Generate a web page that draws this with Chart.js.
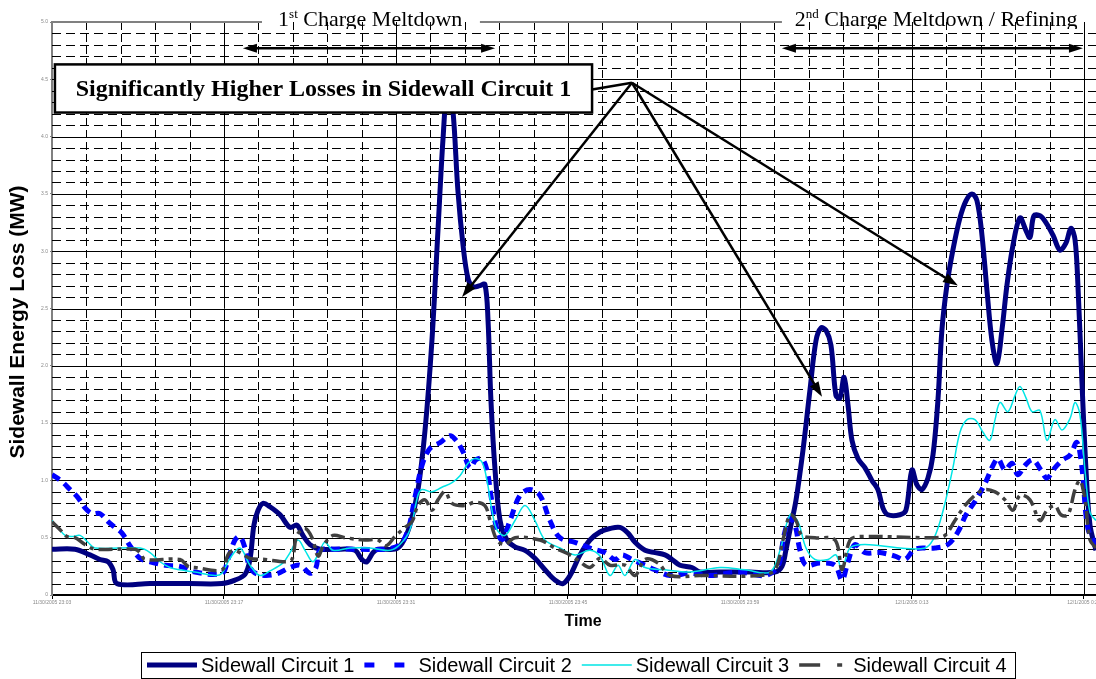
<!DOCTYPE html>
<html lang="en">
<head>
<meta charset="UTF-8">
<title>Sidewall Energy Loss</title>
<script src="https://cdn.jsdelivr.net/npm/chart.js"></script>
<style>
  html, body { margin: 0; padding: 0; background: #fff; overflow: hidden; }
  canvas { display: block; }
</style>
</head>
<body>
<canvas id="chart" width="1096" height="679"></canvas>
<script>
// x = time in major grid divisions from the first tick label, y = MW
const tickLabels = ['11/30/2005 23:03', '11/30/2005 23:17', '11/30/2005 23:31', '11/30/2005 23:45',
                    '11/30/2005 23:59', '12/1/2005 0:13', '12/1/2005 0:27'];
const seriesNames = ['Sidewall Circuit 1', 'Sidewall Circuit 2', 'Sidewall Circuit 3', 'Sidewall Circuit 4'];

const c1T = [0,0.134,0.221,0.279,0.326,0.355,0.378,0.570,0.802,0.988,1.064,1.122,1.151,1.174,1.198,1.227,1.267,1.326,1.384,1.424,1.459,1.5,1.558,1.674,1.762,1.802,1.831,1.866,1.895,1.994,2.035,2.081,2.128,2.169,2.209,2.244,2.273,2.302,2.331,2.36,2.39,2.419,2.448,2.488,2.517,2.535,2.552,2.576,2.605,2.645,2.692,2.75,2.808,2.866,2.924,2.971,3.012,3.07,3.128,3.186,3.244,3.302,3.349,3.39,3.448,3.506,3.564,3.605,3.651,3.721,3.767,3.884,4.058,4.203,4.244,4.267,4.291,4.326,4.366,4.407,4.442,4.471,4.5,4.529,4.558,4.581,4.605,4.628,4.651,4.686,4.727,4.767,4.802,4.831,4.86,4.93,4.965,5.0,5.029,5.058,5.093,5.122,5.151,5.174,5.203,5.238,5.279,5.314,5.349,5.378,5.407,5.436,5.465,5.494,5.523,5.552,5.587,5.628,5.663,5.686,5.709,5.744,5.779,5.82,5.86,5.895,5.924,5.948,5.965,5.988,6.012,6.035,6.07];
const c1V = [0.40,0.40,0.35,0.31,0.29,0.22,0.10,0.10,0.10,0.10,0.13,0.18,0.31,0.61,0.74,0.80,0.77,0.70,0.59,0.61,0.52,0.44,0.40,0.40,0.39,0.31,0.29,0.37,0.40,0.40,0.45,0.61,0.92,1.44,2.22,3.18,3.97,4.49,4.23,3.53,3.05,2.76,2.69,2.70,2.71,2.40,1.70,1.09,0.65,0.48,0.42,0.39,0.32,0.22,0.13,0.10,0.17,0.35,0.48,0.55,0.58,0.59,0.54,0.46,0.39,0.37,0.35,0.31,0.26,0.24,0.20,0.20,0.20,0.20,0.25,0.39,0.57,0.83,1.26,1.79,2.22,2.33,2.31,2.18,1.74,1.72,1.90,1.66,1.35,1.19,1.11,1.00,0.92,0.76,0.70,0.70,0.74,1.09,0.96,0.92,1.02,1.22,1.70,2.31,2.70,3.01,3.29,3.44,3.50,3.44,3.14,2.66,2.22,2.02,2.31,2.70,3.05,3.29,3.18,3.12,3.31,3.31,3.25,3.14,3.01,3.07,3.20,3.10,2.70,1.87,1.09,0.61,0.39];

const c2T = [0,0.058,0.105,0.151,0.192,0.233,0.279,0.326,0.366,0.407,0.453,0.512,0.57,0.657,0.744,0.831,0.988,1.023,1.064,1.093,1.122,1.151,1.198,1.297,1.384,1.442,1.5,1.535,1.558,1.645,1.791,1.936,2.023,2.07,2.11,2.151,2.198,2.256,2.314,2.349,2.39,2.43,2.465,2.5,2.529,2.552,2.581,2.616,2.663,2.721,2.779,2.837,2.895,2.953,3.041,3.128,3.215,3.273,3.314,3.372,3.448,3.506,3.593,3.709,3.826,4.0,4.145,4.221,4.256,4.291,4.32,4.349,4.384,4.465,4.552,4.593,4.628,4.669,4.727,4.814,4.901,4.959,5.017,5.134,5.209,5.267,5.314,5.372,5.43,5.471,5.5,5.541,5.581,5.616,5.657,5.703,5.75,5.785,5.831,5.878,5.919,5.959,5.988,6.023,6.07];
const c2V = [1.05,0.99,0.92,0.85,0.76,0.71,0.71,0.64,0.59,0.54,0.43,0.32,0.29,0.26,0.25,0.20,0.19,0.31,0.48,0.51,0.41,0.24,0.18,0.18,0.24,0.26,0.19,0.24,0.39,0.40,0.40,0.40,0.44,0.57,0.85,1.13,1.28,1.33,1.39,1.35,1.25,1.11,1.18,1.19,1.09,0.87,0.61,0.48,0.65,0.87,0.92,0.87,0.65,0.50,0.46,0.41,0.37,0.31,0.35,0.31,0.26,0.22,0.17,0.19,0.17,0.20,0.17,0.25,0.52,0.67,0.61,0.39,0.26,0.28,0.26,0.13,0.29,0.44,0.37,0.37,0.34,0.31,0.40,0.41,0.44,0.55,0.70,0.83,0.99,1.13,1.19,1.09,1.15,1.05,1.13,1.18,1.09,1.02,1.11,1.18,1.22,1.33,1.11,0.58,0.44];

const c3T = [0,0.035,0.076,0.116,0.163,0.209,0.25,0.512,0.57,0.628,0.686,0.744,0.831,0.948,0.988,1.035,1.093,1.151,1.209,1.267,1.343,1.384,1.43,1.471,1.517,1.558,1.587,1.634,1.733,1.849,1.965,2.023,2.081,2.128,2.151,2.209,2.267,2.326,2.372,2.419,2.459,2.5,2.529,2.558,2.587,2.634,2.692,2.75,2.808,2.866,2.953,3.041,3.128,3.186,3.244,3.291,3.331,3.39,3.448,3.564,3.709,3.884,4.029,4.174,4.233,4.291,4.337,4.384,4.436,4.512,4.558,4.593,4.64,4.727,4.93,5.076,5.122,5.163,5.203,5.238,5.279,5.32,5.366,5.413,5.453,5.483,5.512,5.558,5.599,5.628,5.663,5.698,5.744,5.785,5.831,5.872,5.919,5.948,5.977,6.006,6.035,6.07];
const c3V = [0.65,0.59,0.52,0.51,0.52,0.46,0.41,0.41,0.37,0.29,0.24,0.22,0.20,0.17,0.19,0.32,0.41,0.26,0.17,0.21,0.28,0.37,0.48,0.39,0.29,0.39,0.46,0.39,0.41,0.41,0.39,0.44,0.57,0.87,0.92,0.90,0.94,0.98,1.04,1.15,1.19,1.16,1.00,0.74,0.57,0.52,0.65,0.78,0.65,0.48,0.41,0.35,0.39,0.34,0.17,0.26,0.17,0.31,0.24,0.22,0.20,0.24,0.22,0.20,0.39,0.70,0.64,0.41,0.31,0.31,0.35,0.22,0.41,0.44,0.41,0.41,0.48,0.64,0.87,1.11,1.42,1.53,1.53,1.42,1.35,1.53,1.68,1.60,1.74,1.82,1.72,1.60,1.61,1.35,1.53,1.44,1.54,1.68,1.57,1.09,0.72,0.65];

const c4T = [0,0.047,0.087,0.134,0.192,0.25,0.483,0.512,0.541,0.744,0.791,0.831,0.988,1.023,1.052,1.093,1.151,1.238,1.355,1.395,1.424,1.471,1.512,1.547,1.581,1.634,1.703,1.82,1.895,1.942,1.994,2.052,2.093,2.128,2.169,2.209,2.244,2.285,2.326,2.401,2.459,2.517,2.547,2.587,2.634,2.692,2.837,2.924,3.012,3.07,3.128,3.186,3.244,3.331,3.39,3.448,3.523,3.593,3.767,4.116,4.203,4.25,4.291,4.326,4.36,4.436,4.552,4.593,4.64,4.698,5.134,5.192,5.25,5.308,5.366,5.424,5.483,5.541,5.587,5.628,5.686,5.744,5.785,5.831,5.866,5.907,5.948,5.977,6.006,6.035,6.07];
const c4V = [0.64,0.57,0.51,0.50,0.44,0.40,0.40,0.37,0.31,0.31,0.25,0.24,0.22,0.35,0.39,0.37,0.32,0.31,0.29,0.31,0.52,0.58,0.50,0.34,0.44,0.52,0.50,0.48,0.48,0.43,0.51,0.59,0.64,0.78,0.83,0.74,0.83,0.90,0.80,0.78,0.81,0.78,0.65,0.48,0.44,0.50,0.48,0.41,0.35,0.29,0.24,0.32,0.26,0.26,0.17,0.31,0.28,0.17,0.17,0.17,0.22,0.48,0.70,0.65,0.52,0.50,0.48,0.22,0.48,0.51,0.50,0.52,0.65,0.78,0.87,0.92,0.90,0.83,0.74,0.87,0.83,0.65,0.74,0.78,0.70,0.70,0.92,1.00,0.83,0.48,0.41];

const X_MAX = 6.07;
const Y_MAX = 5;

// annotation anchors, in data units
const calloutApex = { t: 3.372, v: 4.47 };
const calloutTips = [{ t: 2.384, v: 2.60 }, { t: 4.477, v: 1.73 }, { t: 5.267, v: 2.70 }];
const calloutBox = { t0: 0.017, t1: 3.14, v0: 4.63, v1: 4.21 };
const phases = [
  { num: '1', sup: 'st', rest: ' Charge Meltdown', center: 1.85, from: 1.11, to: 2.576, gap: [1.221, 2.488] },
  { num: '2', sup: 'nd', rest: ' Charge Meltdown / Refining', center: 5.14, from: 4.244, to: 5.994, gap: [4.244, X_MAX] }
];
const phaseArrowV = 4.77;

function toXY(ts, vs) {
  const n = Math.min(ts.length, vs.length);
  const out = [];
  for (let i = 0; i < n; i++) out.push({ x: ts[i], y: vs[i] });
  return out;
}

function line(ctx, x1, y1, x2, y2) {
  ctx.beginPath();
  ctx.moveTo(x1, y1);
  ctx.lineTo(x2, y2);
  ctx.stroke();
}

function arrowHead(ctx, x1, y1, x2, y2, len, half) {
  const a = Math.atan2(y2 - y1, x2 - x1);
  const bx = x2 - len * Math.cos(a), by = y2 - len * Math.sin(a);
  ctx.beginPath();
  ctx.moveTo(x2, y2);
  ctx.lineTo(bx + half * Math.sin(a), by - half * Math.cos(a));
  ctx.lineTo(bx - half * Math.sin(a), by + half * Math.cos(a));
  ctx.closePath();
  ctx.fill();
}

const gridPlugin = {
  id: 'excelGrid',
  beforeDatasetsDraw(chart) {
    const { ctx, chartArea: { left, right, top, bottom }, scales: { x, y } } = chart;
    ctx.save();
    ctx.strokeStyle = '#000';
    ctx.lineWidth = 1;
    // minor dashed lines
    ctx.setLineDash([9, 5]);
    for (let i = 1; i < 50; i++) {
      if (i % 5 === 0) continue;
      const py = Math.round(y.getPixelForValue(i / 10)) + 0.5;
      line(ctx, left, py, right, py);
    }
    ctx.setLineDash([8, 4]);
    for (let i = 1; i / 5 < X_MAX; i++) {
      if (i % 5 === 0) continue;
      const px = Math.round(x.getPixelForValue(i / 5)) + 0.5;
      line(ctx, px, top, px, bottom);
    }
    // major solid lines
    ctx.setLineDash([]);
    for (let i = 1; i < 10; i++) {
      const py = Math.round(y.getPixelForValue(i / 2)) + 0.5;
      line(ctx, left, py, right, py);
    }
    for (let i = 1; i <= Math.floor(X_MAX); i++) {
      const px = Math.round(x.getPixelForValue(i)) + 0.5;
      line(ctx, px, top, px, bottom);
    }
    // grey top border, broken where the phase titles sit
    ctx.strokeStyle = '#808080';
    ctx.lineWidth = 2;
    const ty = y.getPixelForValue(Y_MAX);
    line(ctx, left, ty, x.getPixelForValue(phases[0].gap[0]), ty);
    line(ctx, x.getPixelForValue(phases[0].gap[1]), ty, x.getPixelForValue(phases[1].gap[0]), ty);
    ctx.restore();
  }
};

const annotationPlugin = {
  id: 'callouts',
  afterDatasetsDraw(chart) {
    const { ctx, scales: { x, y } } = chart;
    const P = (t, v) => [x.getPixelForValue(t), y.getPixelForValue(v)];
    ctx.save();
    ctx.strokeStyle = '#000';
    ctx.fillStyle = '#000';

    // phase titles and double arrows
    phases.forEach(ph => {
      const [x1, ay] = P(ph.from, phaseArrowV);
      const [x2] = P(ph.to, phaseArrowV);
      ctx.lineWidth = 2.5;
      line(ctx, x1 + 8, ay, x2 - 8, ay);
      arrowHead(ctx, x2, ay, x1, ay, 14, 4.5);
      arrowHead(ctx, x1, ay, x2, ay, 14, 4.5);

      ctx.save();
      ctx.beginPath();
      ctx.rect(0, 0, chart.width, y.getPixelForValue(Y_MAX) + 7);
      ctx.clip();
      const big = '22px "Liberation Serif", "Times New Roman", serif';
      const small = '13px "Liberation Serif", "Times New Roman", serif';
      ctx.font = big;
      const wNum = ctx.measureText(ph.num).width;
      const wRest = ctx.measureText(ph.rest).width;
      ctx.font = small;
      const wSup = ctx.measureText(ph.sup).width;
      const total = wNum + wSup + wRest;
      let tx = x.getPixelForValue(ph.center) - total / 2;
      const base = 26;
      ctx.textBaseline = 'alphabetic';
      ctx.textAlign = 'left';
      ctx.font = big;
      ctx.fillText(ph.num, tx, base);
      ctx.font = small;
      ctx.fillText(ph.sup, tx + wNum, base - 8);
      ctx.font = big;
      ctx.fillText(ph.rest, tx + wNum + wSup, base);
      ctx.restore();
    });

    // callout box
    const [bx0, by0] = P(calloutBox.t0, calloutBox.v0);
    const [bx1, by1] = P(calloutBox.t1, calloutBox.v1);
    ctx.fillStyle = '#fff';
    ctx.fillRect(bx0, by0, bx1 - bx0, by1 - by0);
    ctx.lineWidth = 2.5;
    ctx.strokeRect(bx0, by0, bx1 - bx0, by1 - by0);
    ctx.fillStyle = '#000';
    ctx.font = 'bold 24px "Liberation Serif", "Times New Roman", serif';
    ctx.textAlign = 'center';
    ctx.textBaseline = 'middle';
    ctx.fillText('Significantly Higher Losses in Sidewall Circuit 1', (bx0 + bx1) / 2, (by0 + by1) / 2 + 1);

    // leader from box to apex, then arrows to the peaks
    const [ax, ay] = P(calloutApex.t, calloutApex.v);
    ctx.lineWidth = 2.5;
    line(ctx, bx1, (by0 + by1) / 2 + 1, ax, ay);
    calloutTips.forEach(tp => {
      const [tx, ty] = P(tp.t, tp.v);
      const a = Math.atan2(ty - ay, tx - ax);
      line(ctx, ax, ay, tx - 10 * Math.cos(a), ty - 10 * Math.sin(a));
      arrowHead(ctx, ax, ay, tx, ty, 15, 5);
    });
    ctx.restore();
  }
};

const framePlugin = {
  id: 'frameText',
  afterDraw(chart) {
    const { ctx } = chart;
    ctx.save();
    // axis titles
    ctx.fillStyle = '#000';
    ctx.font = 'bold 21px "Liberation Sans", Arial, sans-serif';
    ctx.textAlign = 'center';
    ctx.textBaseline = 'middle';
    ctx.translate(18, 322);
    ctx.rotate(-Math.PI / 2);
    ctx.fillText('Sidewall Energy Loss (MW)', 0, 0);
    ctx.setTransform(1, 0, 0, 1, 0, 0);
    ctx.font = 'bold 16px "Liberation Sans", Arial, sans-serif';
    ctx.fillText('Time', 583, 622);

    // legend
    ctx.strokeStyle = '#000';
    ctx.lineWidth = 1;
    ctx.strokeRect(141.5, 652.5, 874, 26);
    let lx = 147;
    const ly = 665;
    ctx.font = '20px "Liberation Sans", Arial, sans-serif';
    ctx.textAlign = 'left';
    chart.data.datasets.forEach(ds => {
      ctx.strokeStyle = ds.borderColor;
      ctx.lineWidth = ds.borderWidth;
      ctx.setLineDash(ds.legendDash || []);
      line(ctx, lx, ly, lx + 50, ly);
      ctx.setLineDash([]);
      ctx.fillStyle = '#000';
      ctx.fillText(ds.label, lx + 54, ly + 1);
      lx += 54 + ctx.measureText(ds.label).width + 10;
    });
    ctx.restore();
  }
};

Chart.defaults.font.family = '"Liberation Sans", Arial, sans-serif';

new Chart(document.getElementById('chart').getContext('2d'), {
  type: 'line',
  data: {
    datasets: [
      { label: seriesNames[0], data: toXY(c1T, c1V), borderColor: '#000080', borderWidth: 5, order: 3 },
      { label: seriesNames[1], data: toXY(c2T, c2V), borderColor: '#0000FF', borderWidth: 5, borderDash: [9, 6],
        legendDash: [10, 20], order: 2 },
      { label: seriesNames[2], data: toXY(c3T, c3V), borderColor: '#00E5E5', borderWidth: 1.5, order: 1 },
      { label: seriesNames[3], data: toXY(c4T, c4V), borderColor: '#404040', borderWidth: 3.5, borderDash: [14, 5, 4, 5],
        legendDash: [21, 17, 5, 10], order: 0 }
    ]
  },
  options: {
    responsive: false,
    devicePixelRatio: 1,
    animation: false,
    events: [],
    layout: { padding: { top: 22, right: 0, bottom: 44, left: 0 } },
    elements: {
      point: { radius: 0 },
      line: { tension: 0.35, borderJoinStyle: 'round', fill: false }
    },
    plugins: { legend: { display: false }, tooltip: { enabled: false } },
    scales: {
      x: {
        type: 'linear',
        min: 0,
        max: X_MAX,
        ticks: {
          autoSkip: false,
          maxRotation: 0,
          padding: 1,
          font: { size: 5 },
          color: '#888',
          callback: v => tickLabels[v] || ''
        },
        afterBuildTicks(s) { s.ticks = tickLabels.map((_, i) => ({ value: i })); },
        grid: { drawOnChartArea: false, drawTicks: true, tickLength: 4, color: '#000' },
        border: { color: '#000', width: 2 },
        afterFit(s) { s.height = 40; s.paddingLeft = 0; s.paddingRight = 0; }
      },
      y: {
        min: 0,
        max: Y_MAX,
        ticks: { stepSize: 0.5, padding: 2, font: { size: 5 }, color: '#888' },
        grid: { drawOnChartArea: false, drawTicks: true, tickLength: 2, color: '#808080' },
        border: { color: '#808080', width: 2 },
        afterFit(s) { s.width = 52; s.paddingTop = 0; s.paddingBottom = 0; }
      }
    }
  },
  plugins: [gridPlugin, annotationPlugin, framePlugin]
});
</script>
</body>
</html>
